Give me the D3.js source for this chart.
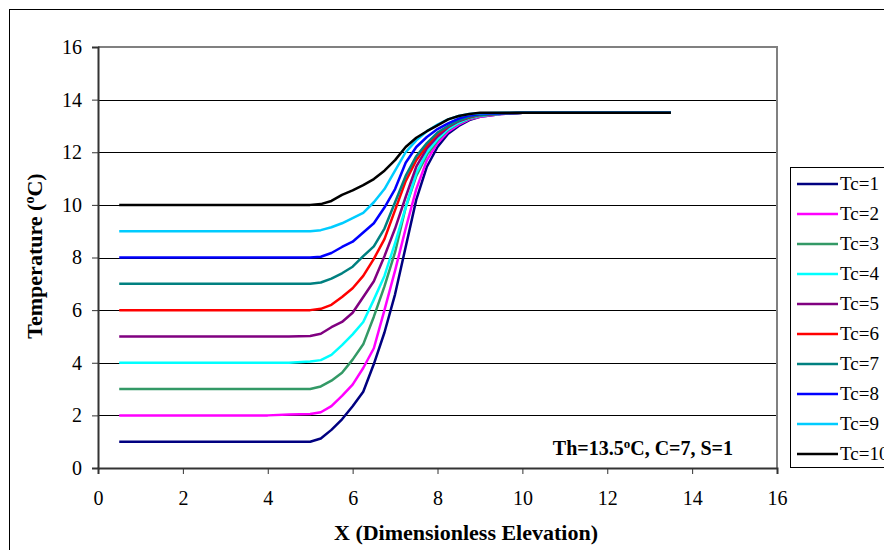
<!DOCTYPE html>
<html>
<head>
<meta charset="utf-8">
<script src="https://cdn.jsdelivr.net/npm/d3@7"></script>
<style>
  body { margin: 0; background: #fff; }
  svg { display: block; font-family: "Liberation Serif", "Times New Roman", serif; }
</style>
</head>
<body>
<div id="app"></div>
<script>
// x positions (dimensionless elevation) shared by all series
const xVals = [0.5, 1, 1.5, 2, 2.5, 3, 3.5, 4, 4.5, 5, 5.25, 5.5, 5.75, 6, 6.25, 6.5, 6.75, 7, 7.25, 7.5, 7.75, 8, 8.25, 8.5, 8.75, 9, 9.5, 10, 10.5, 11, 11.5, 12, 12.5, 13, 13.5]

const flat = v => [v, v, v, v, v, v, v, v, v]

// temperatures for each Tc
const tc1 = flat(1).concat([1.0, 1.12, 1.45, 1.85, 2.35, 2.9, 3.95, 5.15, 6.6, 8.4, 10.2, 11.45, 12.2, 12.7, 13.0, 13.22, 13.35, 13.45, 13.5, 13.5, 13.5, 13.5, 13.5, 13.5, 13.5, 13.5])
const tc2 = [2, 2, 2, 2, 2, 2, 2, 2, 2.03].concat([2.05, 2.12, 2.35, 2.74, 3.17, 3.8, 4.55, 6.0, 7.5, 9.1, 10.6, 11.7, 12.35, 12.78, 13.05, 13.25, 13.35, 13.45, 13.5, 13.5, 13.5, 13.5, 13.5, 13.5, 13.5, 13.5])
const tc3 = flat(3).concat([3.0, 3.1, 3.32, 3.62, 4.12, 4.7, 5.75, 6.9, 8.2, 9.9, 11.1, 11.9, 12.45, 12.85, 13.1, 13.28, 13.38, 13.46, 13.5, 13.5, 13.5, 13.5, 13.5, 13.5, 13.5, 13.5])
const tc4 = flat(4).concat([4.05, 4.1, 4.3, 4.67, 5.08, 5.55, 6.4, 7.3, 8.55, 9.9, 11.2, 12.0, 12.5, 12.88, 13.12, 13.3, 13.4, 13.46, 13.5, 13.5, 13.5, 13.5, 13.5, 13.5, 13.5, 13.5])
const tc5 = flat(5).concat([5.02, 5.1, 5.35, 5.55, 5.9, 6.5, 7.1, 8.05, 9.1, 10.3, 11.45, 12.15, 12.6, 12.95, 13.18, 13.32, 13.42, 13.47, 13.5, 13.5, 13.5, 13.5, 13.5, 13.5, 13.5, 13.5])
const tc6 = flat(6).concat([6.0, 6.05, 6.2, 6.5, 6.83, 7.3, 7.95, 8.7, 9.8, 10.9, 11.7, 12.25, 12.7, 12.98, 13.2, 13.33, 13.42, 13.47, 13.5, 13.5, 13.5, 13.5, 13.5, 13.5, 13.5, 13.5])
const tc7 = flat(7).concat([7.0, 7.05, 7.2, 7.4, 7.65, 8.05, 8.42, 9.1, 10.1, 11.1, 11.85, 12.35, 12.75, 13.0, 13.2, 13.35, 13.42, 13.47, 13.5, 13.5, 13.5, 13.5, 13.5, 13.5, 13.5, 13.5])
const tc8 = flat(8).concat([8.0, 8.03, 8.17, 8.4, 8.6, 8.95, 9.3, 9.9, 10.6, 11.6, 12.2, 12.58, 12.88, 13.1, 13.28, 13.4, 13.45, 13.48, 13.5, 13.5, 13.5, 13.5, 13.5, 13.5, 13.5, 13.5])
const tc9 = flat(9).concat([9.0, 9.04, 9.15, 9.3, 9.5, 9.7, 10.1, 10.6, 11.3, 12.0, 12.45, 12.8, 13.05, 13.25, 13.38, 13.45, 13.48, 13.5, 13.5, 13.5, 13.5, 13.5, 13.5, 13.5, 13.5, 13.5])
const tc10 = flat(10).concat([10.0, 10.03, 10.15, 10.38, 10.55, 10.75, 10.98, 11.3, 11.7, 12.2, 12.55, 12.8, 13.02, 13.25, 13.38, 13.45, 13.5, 13.5, 13.5, 13.5, 13.5, 13.5, 13.5, 13.5, 13.5, 13.5])

const seriesNames = ['Tc=1', 'Tc=2', 'Tc=3', 'Tc=4', 'Tc=5', 'Tc=6', 'Tc=7', 'Tc=8', 'Tc=9', 'Tc=10']
const seriesValues = [tc1, tc2, tc3, tc4, tc5, tc6, tc7, tc8, tc9, tc10]
const seriesColors = ['#000080', '#ff00ff', '#339966', '#00ffff', '#800080', '#ff0000', '#008080', '#0000ff', '#00ccff', '#000000']

const xTicks = [0, 2, 4, 6, 8, 10, 12, 14, 16]
const yTicks = [0, 2, 4, 6, 8, 10, 12, 14, 16]

const w = 884
const h = 550
const plotL = 98, plotR = 777, plotT = 47, plotB = 468

const xScale = d3.scaleLinear().domain([0, 16]).range([plotL, plotR])
const yScale = d3.scaleLinear().domain([0, 16]).range([plotB, plotT])

const svg = d3.select('#app')
  .append('svg')
  .attr('width', w)
  .attr('height', h)

// outer chart frame
svg.append('rect')
  .attr('x', 9.5)
  .attr('y', 9.5)
  .attr('width', 900)
  .attr('height', 600)
  .attr('fill', 'white')
  .attr('stroke', '#000')
  .attr('stroke-width', 1)

// gridlines
svg.append('g')
  .selectAll('line')
  .data(yTicks.slice(1, -1))
  .enter()
  .append('line')
  .attr('x1', plotL)
  .attr('x2', plotR)
  .attr('y1', d => Math.round(yScale(d)) + 0.5)
  .attr('y2', d => Math.round(yScale(d)) + 0.5)
  .attr('stroke', '#000')
  .attr('stroke-width', 1)

// plot area frame (grey top and right)
svg.append('path')
  .attr('d', `M${plotL},${plotT} H${plotR} V${plotB}`)
  .attr('fill', 'none')
  .attr('stroke', '#808080')
  .attr('stroke-width', 2)

const xAxis = d3.axisBottom(xScale).tickValues(xTicks).tickSize(6).tickPadding(17)
const yAxis = d3.axisLeft(yScale).tickValues(yTicks).tickSize(6).tickPadding(10)

svg.append('g')
  .attr('id', 'x-axis')
  .attr('transform', `translate(0, ${plotB})`)
  .call(xAxis)

svg.append('g')
  .attr('id', 'y-axis')
  .attr('transform', `translate(${plotL}, 0)`)
  .call(yAxis)

svg.selectAll('#x-axis path, #y-axis path')
  .attr('stroke', '#333')
  .attr('stroke-width', 2)
svg.selectAll('#x-axis .tick line, #y-axis .tick line')
  .attr('stroke', '#333')
svg.selectAll('#x-axis text, #y-axis text')
  .attr('font-size', 20)
  .attr('font-family', '"Liberation Serif", serif')
  .attr('fill', '#000')

// curves
const line = d3.line()
  .x((d, i) => xScale(xVals[i]))
  .y(d => yScale(d))

svg.append('g')
  .selectAll('path')
  .data(seriesValues)
  .enter()
  .append('path')
  .attr('d', d => line(d))
  .attr('fill', 'none')
  .attr('stroke', (d, i) => seriesColors[i])
  .attr('stroke-width', 2.5)
  .attr('stroke-linejoin', 'round')

// annotation
const note = svg.append('text')
  .attr('x', 733)
  .attr('y', 455)
  .attr('text-anchor', 'end')
  .attr('font-size', 20)
  .attr('font-weight', 'bold')
note.append('tspan').text('Th=13.5')
note.append('tspan').attr('dy', -7).attr('font-size', 13).text('o')
note.append('tspan').attr('dy', 7).text('C, C=7, S=1')

// axis titles
svg.append('text')
  .attr('x', 466)
  .attr('y', 540)
  .attr('text-anchor', 'middle')
  .attr('font-size', 22)
  .attr('font-weight', 'bold')
  .text('X (Dimensionless Elevation)')

const yTitle = svg.append('text')
  .attr('transform', `translate(42, 256) rotate(-90)`)
  .attr('text-anchor', 'middle')
  .attr('font-size', 22)
  .attr('font-weight', 'bold')
yTitle.append('tspan').text('Temperature (')
yTitle.append('tspan').attr('dy', -8).attr('font-size', 14).text('o')
yTitle.append('tspan').attr('dy', 8).text('C)')

// legend
const legTop = 167, legStep = 30
const legend = svg.append('g').attr('id', 'legend')
legend.append('rect')
  .attr('x', 790.5)
  .attr('y', legTop + 0.5)
  .attr('width', 120)
  .attr('height', legStep * 10)
  .attr('fill', 'white')
  .attr('stroke', '#000')

const items = legend.selectAll('g')
  .data(seriesNames)
  .enter()
  .append('g')
  .attr('transform', (d, i) => `translate(0, ${legTop + 17 + i * legStep})`)

items.append('line')
  .attr('x1', 797)
  .attr('x2', 838)
  .attr('stroke', (d, i) => seriesColors[i])
  .attr('stroke-width', 2.5)

items.append('text')
  .attr('x', 840)
  .attr('y', 6)
  .attr('font-size', 19)
  .text(d => d)
</script>
</body>
</html>
